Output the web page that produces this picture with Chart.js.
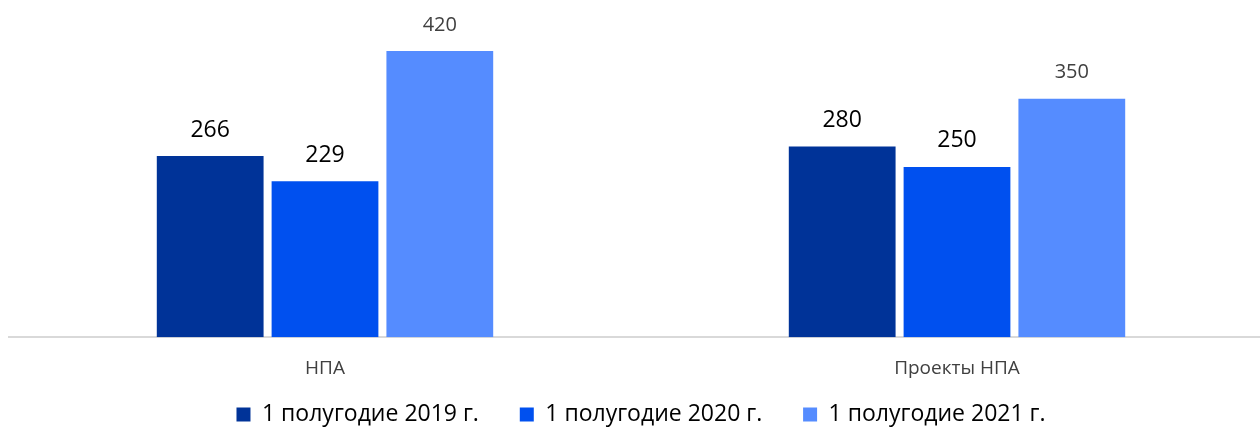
<!DOCTYPE html>
<html>
<head>
<meta charset="utf-8">
<script src="https://cdn.jsdelivr.net/npm/chart.js@4.4.1/dist/chart.umd.min.js"></script>
<style>
  html, body { margin: 0; padding: 0; background: #fff; overflow: hidden; }
  #wrap { width: 1273px; height: 433px; }
</style>
</head>
<body>
<div id="wrap"><canvas id="chart"></canvas></div>
<script>
const categories = ['НПА', 'Проекты НПА'];
const seriesNames = ['1 полугодие 2019 г.', '1 полугодие 2020 г.', '1 полугодие 2021 г.'];
const values2019 = [266, 280];
const values2020 = [229, 250];
const values2021 = [420, 350];
const colors = ['#003398', '#0050EF', '#558CFF'];

// подписи значений над столбцами
const valueLabels = {
    id: 'valueLabels',
    afterDatasetsDraw(chart) {
        const ctx = chart.ctx;
        ctx.save();
        ctx.textAlign = 'center';
        ctx.textBaseline = 'middle';
        chart.data.datasets.forEach((ds, i) => {
            const meta = chart.getDatasetMeta(i);
            const last = i === 2;
            ctx.fillStyle = last ? '#404040' : '#000000';
            ctx.font = (last ? '20px' : '23px') + ' "Open Sans", sans-serif';
            meta.data.forEach((bar, j) => {
                ctx.fillText(ds.data[j], bar.x, bar.y - 26);
            });
        });
        ctx.restore();
    }
};

new Chart(document.getElementById('chart'), {
    type: 'bar',
    data: {
        labels: categories,
        datasets: [
            { label: seriesNames[0], data: values2019, backgroundColor: colors[0] },
            { label: seriesNames[1], data: values2020, backgroundColor: colors[1] },
            { label: seriesNames[2], data: values2021, backgroundColor: colors[2] }
        ]
    },
    options: {
        responsive: true,
        maintainAspectRatio: false,
        animation: false,
        layout: { padding: { left: 9, right: 0, top: 0, bottom: -3 } },
        datasets: {
            bar: { categoryPercentage: 0.545, barPercentage: 0.93 }
        },
        plugins: {
            legend: {
                position: 'bottom',
                labels: {
                    color: '#000',
                    boxWidth: 14,
                    boxHeight: 14,
                    padding: 11,
                    font: { size: 23, family: 'Open Sans' },
                    generateLabels(chart) {
                        const items = Chart.defaults.plugins.legend.labels.generateLabels(chart);
                        items.forEach((it, i) => {
                            if (i < items.length - 1) it.text += '     ';
                        });
                        return items;
                    }
                }
            },
            tooltip: { enabled: false }
        },
        scales: {
            y: {
                display: false,
                min: 0,
                max: 495
            },
            x: {
                grid: { display: false },
                border: { color: '#d9d9d9', width: 2 },
                ticks: { color: '#404040', padding: 12, font: { size: 19, family: 'Open Sans' } }
            }
        }
    },
    plugins: [valueLabels]
});
</script>
</body>
</html>
